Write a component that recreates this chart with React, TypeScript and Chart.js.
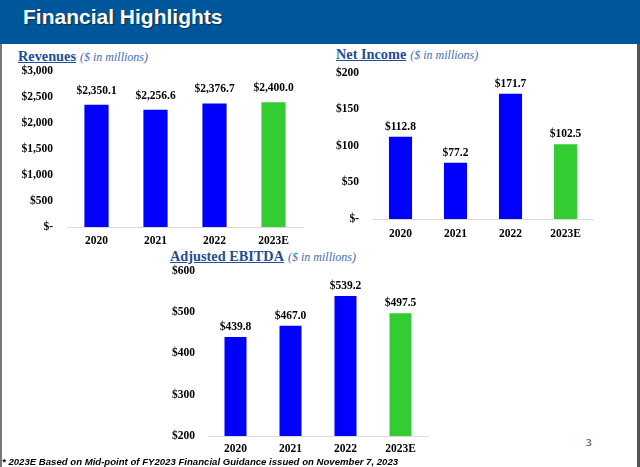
import React, { useEffect, useRef } from "react";
import { Chart, registerables } from "chart.js";

Chart.register(...registerables);

// ---- Data ----
const categories = ["2020", "2021", "2022", "2023E"];
const revenueValues = [2350.1, 2256.6, 2376.7, 2400.0];
const netIncomeValues = [112.8, 77.2, 171.7, 102.5];
const ebitdaValues = [439.8, 467.0, 539.2, 497.5];
const barColors = ["#0000FF", "#0000FF", "#0000FF", "#33CC33"];
const revenueTicks = [0, 500, 1000, 1500, 2000, 2500, 3000];
const netIncomeTicks = [0, 50, 100, 150, 200];
const ebitdaTicks = [200, 300, 400, 500, 600];

const SERIF = "'Liberation Serif', 'Times New Roman', serif";
const SANS = "'Liberation Sans', Arial, sans-serif";

const fmtTick = (v: number) => (v === 0 ? "$-" : "$" + v.toLocaleString("en-US"));
const fmtVal = (v: number) =>
  "$" + v.toLocaleString("en-US", { minimumFractionDigits: 1, maximumFractionDigits: 1 });

const valueLabelPlugin = {
  id: "valueLabels",
  afterDatasetsDraw(chart: any, _args: any, opts: any) {
    const { ctx } = chart;
    const meta = chart.getDatasetMeta(0);
    const data = chart.data.datasets[0].data as number[];
    ctx.save();
    ctx.font = `bold 11.5px ${SERIF}`;
    ctx.fillStyle = "#000";
    ctx.textAlign = "center";
    ctx.textBaseline = "middle";
    meta.data.forEach((bar: any, i: number) => {
      ctx.fillText(fmtVal(data[i]), bar.x, bar.y - (opts.offset || 10));
    });
    ctx.restore();
  },
};

type BarProps = {
  values: number[];
  ticks: number[];
  left: number;
  top: number;
  width: number;
  height: number;
  padRight: number;
  padTop: number;
  yAxisW: number;
  xAxisH: number;
  yPad: number;
  xPad: number;
  labelOffset: number;
  barPct: number;
};

function BarChart(p: BarProps) {
  const ref = useRef<HTMLCanvasElement | null>(null);
  useEffect(() => {
    if (!ref.current) return;
    const chart = new Chart(ref.current, {
      type: "bar",
      data: {
        labels: categories,
        datasets: [
          {
            data: p.values,
            backgroundColor: barColors,
            borderWidth: 0,
            categoryPercentage: 1,
            barPercentage: p.barPct,
          },
        ],
      },
      plugins: [valueLabelPlugin],
      options: {
        animation: false,
        responsive: false,
        devicePixelRatio: 1,
        layout: { padding: { left: 0, right: p.padRight, top: p.padTop, bottom: 0 } },
        plugins: {
          legend: { display: false },
          tooltip: { enabled: false },
          // @ts-ignore
          valueLabels: { offset: p.labelOffset },
        },
        scales: {
          x: {
            grid: { display: false, drawTicks: false },
            border: { display: true, color: "#d9d9d9", width: 1 },
            ticks: {
              color: "#000",
              font: { family: SERIF, size: 11.5, weight: "bold" },
              padding: p.xPad,
              maxRotation: 0,
              autoSkip: false,
            },
            afterFit: (s: any) => {
              s.height = p.xAxisH;
              s.paddingLeft = 0;
              s.paddingRight = 0;
            },
          },
          y: {
            min: p.ticks[0],
            max: p.ticks[p.ticks.length - 1],
            grid: { display: false, drawTicks: false },
            border: { display: false },
            ticks: {
              color: "#000",
              font: { family: SERIF, size: 11.5, weight: "bold" },
              padding: p.yPad,
              callback: (v: any) => fmtTick(Number(v)),
            },
            afterBuildTicks: (s: any) => {
              s.ticks = p.ticks.map((v) => ({ value: v }));
            },
            afterFit: (s: any) => {
              s.width = p.yAxisW;
              s.paddingTop = 0;
              s.paddingBottom = 0;
            },
          },
        },
      } as any,
    });
    return () => chart.destroy();
  }, []);
  return (
    <canvas
      ref={ref}
      width={p.width}
      height={p.height}
      style={{
        position: "absolute",
        left: p.left,
        top: p.top,
        width: p.width,
        height: p.height,
      }}
    />
  );
}

function Title({ main, left, top }: { main: string; left: number; top: number }) {
  return (
    <div
      style={{
        position: "absolute",
        left,
        top,
        whiteSpace: "nowrap",
        lineHeight: "16px",
        fontFamily: SERIF,
        color: "#1F4E96",
      }}
    >
      <span style={{ fontWeight: "bold", fontSize: "14.3px", textDecoration: "underline" }}>{main}</span>
      <span style={{ fontStyle: "italic", fontSize: "12px", color: "#3C6DB8", marginLeft: 4 }}>
        ($ in millions)
      </span>
    </div>
  );
}

export default function App() {
  useEffect(() => {
    document.body.style.margin = "0";
  }, []);
  return (
    <div
      style={{
        position: "fixed",
        left: 0,
        top: 0,
        width: 640,
        height: 467,
        background: "#fff",
        overflow: "hidden",
      }}
    >
      <div
        style={{
          position: "absolute",
          left: 0,
          top: 0,
          width: 640,
          height: 44,
          background: "#00569A",
        }}
      />
      <div
        style={{
          position: "absolute",
          left: 23,
          top: 5,
          fontFamily: SANS,
          fontWeight: "bold",
          fontSize: "21px",
          lineHeight: "24px",
          color: "#fff",
          textShadow: "1px 1px 1px rgba(0,0,0,0.45)",
          whiteSpace: "nowrap",
        }}
      >
        Financial Highlights
      </div>
      <div style={{ position: "absolute", left: 0, top: 44, width: 2, height: 423, background: "#777" }} />
      <div style={{ position: "absolute", left: 637, top: 44, width: 3, height: 423, background: "#555" }} />

      <Title main="Revenues" left={18} top={48} />
      <Title main="Net Income" left={336} top={46} />
      <Title main="Adjusted EBITDA" left={170} top={248} />

      <BarChart
        values={revenueValues}
        ticks={revenueTicks}
        left={0}
        top={62}
        width={320}
        height={190}
        padRight={17}
        padTop={9}
        yAxisW={67}
        xAxisH={25}
        yPad={14}
        xPad={7}
        labelOffset={14}
        barPct={0.41}
      />
      <BarChart
        values={netIncomeValues}
        ticks={netIncomeTicks}
        left={320}
        top={62}
        width={316}
        height={190}
        padRight={43}
        padTop={11}
        yAxisW={53}
        xAxisH={33}
        yPad={14}
        xPad={8}
        labelOffset={10}
        barPct={0.42}
      />
      <BarChart
        values={ebitdaValues}
        ticks={ebitdaTicks}
        left={150}
        top={262}
        width={300}
        height={200}
        padRight={22}
        padTop={9}
        yAxisW={58}
        xAxisH={26}
        yPad={13}
        xPad={6}
        labelOffset={10}
        barPct={0.4}
      />

      <div
        style={{
          position: "absolute",
          left: 586,
          top: 435,
          fontFamily: SERIF,
          fontSize: "11px",
          lineHeight: "14px",
          color: "#222",
        }}
      >
        3
      </div>
      <div
        style={{
          position: "absolute",
          left: 2,
          top: 456,
          fontFamily: SANS,
          fontWeight: "bold",
          fontStyle: "italic",
          fontSize: "9.6px",
          lineHeight: "12px",
          color: "#000",
          whiteSpace: "nowrap",
        }}
      >
        * 2023E Based on Mid-point of FY2023 Financial Guidance issued on November 7, 2023
      </div>
    </div>
  );
}
